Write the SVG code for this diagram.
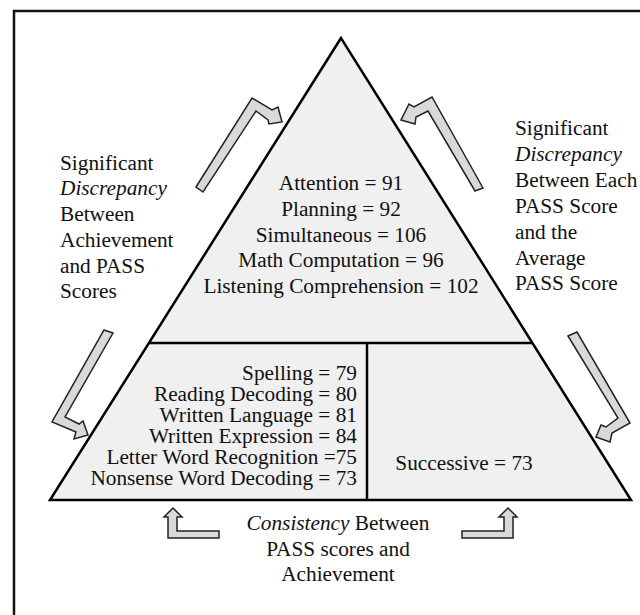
<svg xmlns="http://www.w3.org/2000/svg" width="640" height="615" viewBox="0 0 640 615">
<style>
text{font-family:'Liberation Serif','Times New Roman',serif;font-size:21.3px;fill:#111}
.c{text-anchor:middle}
.r{text-anchor:end}
.i{font-style:italic}
.tri{fill:#f0f0f0;stroke:#000;stroke-width:2.5;stroke-linejoin:miter}
.div{stroke:#000;stroke-width:2.5;fill:none}
.arr{fill:#d9d9d9;stroke:#222;stroke-width:1.5;stroke-linejoin:miter}
</style>
<rect width="640" height="615" fill="#fff"/>
<path d="M14,660 V11 H660" fill="none" stroke="#111" stroke-width="2.5"/>
<g id="pyramid">
<polygon class="tri" points="341,38 50,500 631,500"/>
<line class="div" x1="149" y1="343" x2="533" y2="343"/>
<line class="div" x1="367" y1="343" x2="367" y2="500"/>
</g>
<g id="top-node">
<text class="c" x="341" y="190">Attention = 91</text>
<text class="c" x="341" y="216">Planning = 92</text>
<text class="c" x="341" y="242">Simultaneous = 106</text>
<text class="c" x="341" y="267">Math Computation = 96</text>
<text class="c" x="341" y="293">Listening Comprehension = 102</text>
</g>
<g id="achievement-node">
<text class="r" x="357" y="380">Spelling = 79</text>
<text class="r" x="357" y="401">Reading Decoding = 80</text>
<text class="r" x="357" y="422">Written Language = 81</text>
<text class="r" x="357" y="443">Written Expression = 84</text>
<text class="r" x="357" y="464">Letter Word Recognition =75</text>
<text class="r" x="357" y="485">Nonsense Word Decoding = 73</text>
</g>
<g id="successive-node">
<text class="c" x="464" y="470">Successive = 73</text>
</g>
<g id="left-label">
<text x="60" y="170">Significant</text>
<text x="60" y="195" class="i">Discrepancy</text>
<text x="60" y="221">Between</text>
<text x="60" y="247">Achievement</text>
<text x="60" y="273">and PASS</text>
<text x="60" y="298">Scores</text>
</g>
<g id="right-label">
<text x="515" y="135">Significant</text>
<text x="515" y="161" class="i">Discrepancy</text>
<text x="515" y="187">Between Each</text>
<text x="515" y="213">PASS Score</text>
<text x="515" y="239">and the</text>
<text x="515" y="265">Average</text>
<text x="515" y="290">PASS Score</text>
</g>
<g id="bottom-label">
<text class="c" x="338" y="530"><tspan class="i">Consistency</tspan> Between</text>
<text class="c" x="338" y="556">PASS scores and</text>
<text class="c" x="338" y="581">Achievement</text>
</g>
<g id="connectors">
<polygon class="arr" points="196,187 252,98 272,110 278,107 282,122 269,124 268,120 256,111 203,192"/>
<polygon class="arr" points="475,191 483,188 432,97 414,107 409,104 401,120 415,124 416,117 428,111"/>
<polygon class="arr" points="104,330 113,333 65,417 79,424 83,421 88,435 74,439 76,432 52,422"/>
<polygon class="arr" points="568,336 577,332 630,423 612,433 610,442 596,437 601,425 606,427 618,418"/>
<polygon class="arr" points="173,508 182,517 177,517 177,531 219,531 219,538 168,538 168,517 164,517"/>
<polygon class="arr" points="508,508 517,517 513,517 513,538 462,538 462,531 504,531 504,517 499,517"/>
</g>
</svg>
